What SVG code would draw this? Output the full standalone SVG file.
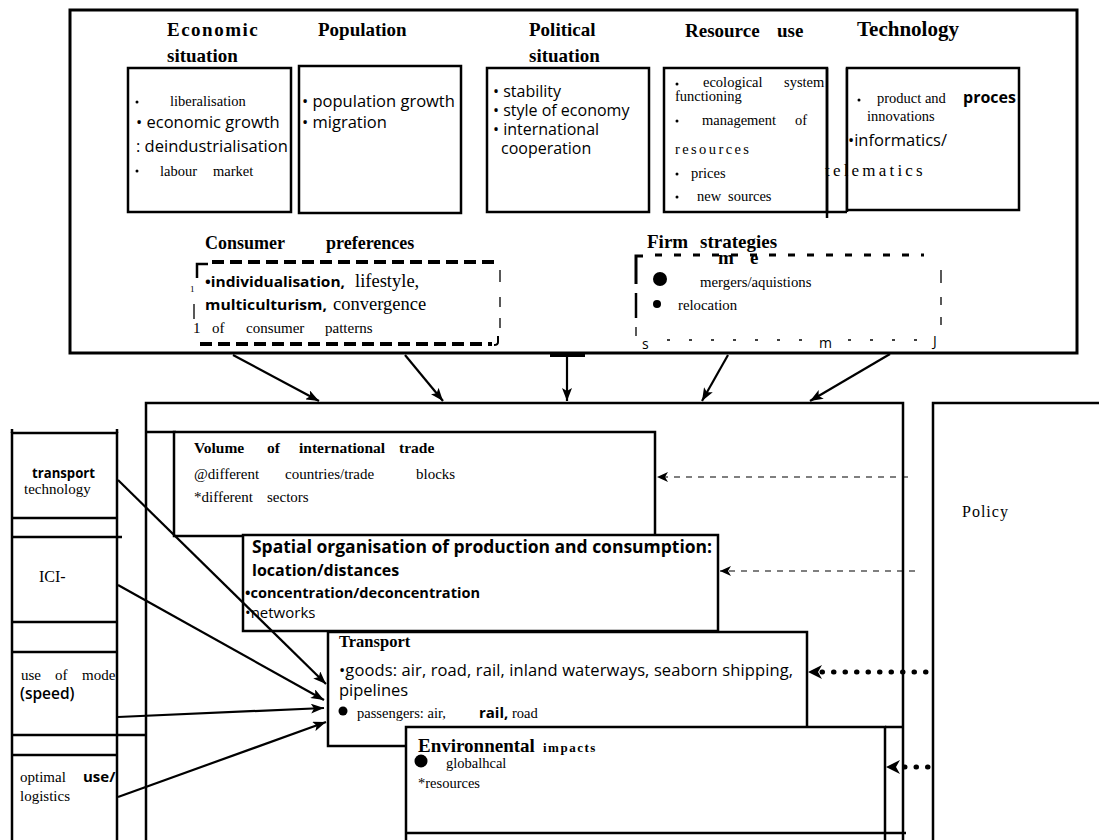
<svg xmlns="http://www.w3.org/2000/svg" width="1099" height="840" viewBox="0 0 1099 840">
<style>
.ln{fill:none;stroke:#000;stroke-width:2.5}
.bx{fill:#fff;stroke:#000;stroke-width:2.5}
.thin{fill:none;stroke:#000;stroke-width:1.3}
.s{font-family:"Liberation Serif",serif;fill:#000}
.sb{font-family:"Liberation Serif",serif;font-weight:bold;fill:#000}
.a{font-family:"Open Sans","DejaVu Sans",sans-serif;fill:#000}
.ab{font-family:"Open Sans","DejaVu Sans",sans-serif;font-weight:bold;fill:#000}
.h{font-size:19px}
.t14{font-size:14.5px}
.t15{font-size:15px}
.t16{font-size:16.5px}
.con{fill:none;stroke:#000;stroke-width:2.2}
.pd{fill:none;stroke:#000;stroke-width:1.2;stroke-dasharray:6 6}
.pdot{fill:none;stroke:#000;stroke-width:5;stroke-dasharray:0.5 11;stroke-linecap:round}
</style>
<defs>
<marker id="ah" markerUnits="userSpaceOnUse" markerWidth="13" markerHeight="10" refX="13" refY="5" orient="auto"><path d="M0,0 L13,5 L0,10 L3,5 z" fill="#000"/></marker>
<marker id="ahs" markerUnits="userSpaceOnUse" markerWidth="11" markerHeight="10" refX="11" refY="5" orient="auto"><path d="M0,0 L11,5 L0,10 L3,5 z" fill="#000"/></marker>
</defs>
<rect width="1099" height="840" fill="#fff"/>

<g id="drivers">
<rect x="70" y="10" width="1007" height="343" fill="#fff" stroke="#000" stroke-width="3"/>
</g>

<g id="economic">
<rect x="128" y="68" width="163" height="144" class="bx"/>
<text class="sb h" x="167" y="36" letter-spacing="1.5">Economic</text>
<text class="sb h" x="167" y="62">situation</text>
<circle cx="137" cy="102" r="1.5"/>
<text class="s t14" x="170" y="106">liberalisation</text>
<text class="a t16" x="136" y="128">• economic growth</text>
<text class="a t16" x="136" y="152">: deindustrialisation</text>
<circle cx="137" cy="171" r="1.5"/>
<text class="s t14" x="160" y="176">labour<tspan x="213">market</tspan></text>
</g>

<g id="population">
<rect x="299" y="66" width="162" height="147" class="bx"/>
<text class="sb h" x="318" y="36">Population</text>
<text class="a t16" x="302" y="107">• population growth</text>
<text class="a t16" x="302" y="128">• migration</text>
</g>

<g id="political">
<rect x="487" y="68" width="162" height="144" class="bx"/>
<text class="sb h" x="529" y="36">Political</text>
<text class="sb h" x="529" y="62">situation</text>
<text class="a" font-size="16" x="493" y="97">• stability</text>
<text class="a" font-size="16" x="493" y="116">• style of economy</text>
<text class="a" font-size="16" x="493" y="135">• international</text>
<text class="a" font-size="16" x="501" y="154">cooperation</text>
</g>

<g id="resource">
<rect x="664" y="68" width="163" height="144" class="bx"/>
<text class="sb h" x="685" y="37">Resource<tspan x="777">use</tspan></text>
<circle cx="677" cy="84" r="1.5"/>
<text class="s t14" x="703" y="87">ecological<tspan x="784">system</tspan></text>
<text class="s t14" x="675" y="101">functioning</text>
<circle cx="677" cy="121" r="1.5"/>
<text class="s t14" x="702" y="125">management<tspan x="795">of</tspan></text>
<text class="s t14" x="675" y="154" letter-spacing="2.4">resources</text>
<circle cx="677" cy="174" r="1.5"/>
<text class="s t14" x="691" y="178">prices</text>
<circle cx="677" cy="197" r="1.5"/>
<text class="s t14" x="697" y="201">new<tspan x="728">sources</tspan></text>
</g>

<g id="technology">
<path class="ln" d="M827 68 V212 M847 68 V212 M827 212 H847 M827 212 V218"/>
<rect x="847" y="68" width="172" height="142" class="bx"/>
<text class="sb" font-size="21" x="857" y="36">Technology</text>
<circle cx="859" cy="100" r="1.5"/>
<text class="s t14" x="877" y="103">product and</text>
<text class="ab" font-size="16" x="963" y="103">proces</text>
<text class="s t14" x="867" y="121">innovations</text>
<text class="a t16" x="848" y="146">•informatics/</text>
<text class="s" font-size="17" x="825" y="176" letter-spacing="3.2">telematics</text>
</g>

<g id="consumer">
<text class="sb" font-size="18" x="205" y="249">Consumer<tspan x="326">preferences</tspan></text>
<line x1="212" y1="262" x2="498" y2="262" stroke="#000" stroke-width="4" stroke-dasharray="12 6"/>
<line x1="200" y1="344" x2="492" y2="344" stroke="#000" stroke-width="4" stroke-dasharray="12 6"/>
<path d="M197 278 V264 H208" fill="none" stroke="#000" stroke-width="2.5"/>
<text class="s" font-size="9" x="190" y="292">1</text>
<path class="thin" d="M194 304 V319 M500 270 V282 M500 297 V307 M500 318 V328"/>
<path d="M498 336 V342 Q498 345 494 345" fill="none" stroke="#000" stroke-width="2"/>
<text class="ab" font-size="15" x="205" y="287" textLength="140" lengthAdjust="spacingAndGlyphs">•individualisation,</text>
<text class="s" font-size="18.5" x="355" y="287">lifestyle,</text>
<text class="ab" font-size="15" x="205" y="310" textLength="122" lengthAdjust="spacingAndGlyphs">multiculturism,</text>
<text class="s" font-size="18.5" x="333" y="310">convergence</text>
<text class="s t15" x="193" y="333">1<tspan x="212">of</tspan><tspan x="246">consumer</tspan><tspan x="325">patterns</tspan></text>
</g>

<g id="firm">
<text class="sb" font-size="19" x="647" y="248">Firm<tspan x="700">strategies</tspan></text>
<line x1="655" y1="255" x2="924" y2="255" stroke="#000" stroke-width="3" stroke-dasharray="7 12"/>
<text class="sb" font-size="19" x="718" y="264">m<tspan x="750">e</tspan></text>
<path d="M643 256 H636 V284" fill="none" stroke="#000" stroke-width="3"/>
<path d="M636 293 V318" fill="none" stroke="#000" stroke-width="2.5"/>
<path class="thin" d="M636 327 V336 M941 270 V283 M941 297 V305 M941 317 V325"/>
<line x1="667" y1="340" x2="808" y2="340" stroke="#000" stroke-width="1.5" stroke-dasharray="3 19"/>
<line x1="848" y1="340" x2="925" y2="340" stroke="#000" stroke-width="1.5" stroke-dasharray="3 19"/>
<text class="a" font-size="14" x="642" y="349">s</text>
<text class="a" font-size="14" x="819" y="348">m</text>
<text class="a" font-size="14" x="933" y="346">J</text>
<circle cx="660" cy="279" r="7"/>
<text class="s" font-size="14.8" x="700" y="287">mergers/aquistions</text>
<circle cx="657" cy="304" r="4"/>
<text class="s" font-size="14.8" x="678" y="310">relocation</text>
</g>

<g id="system">
<rect x="146" y="403" width="757" height="460" fill="#fff" stroke="#000" stroke-width="2.5"/>
<line x1="146" y1="432" x2="176" y2="432" class="ln"/>
</g>

<g id="volume">
<rect x="174" y="432" width="481" height="104" class="bx"/>
<text class="sb" font-size="15.5" x="194" y="453">Volume<tspan x="267">of</tspan><tspan x="299">international</tspan><tspan x="399">trade</tspan></text>
<text class="s t15" x="194" y="479">@different<tspan x="285">countries/trade</tspan><tspan x="416">blocks</tspan></text>
<text class="s t15" x="194" y="502">*different<tspan x="267">sectors</tspan></text>
</g>

<g id="spatial">
<rect x="243" y="535" width="475" height="96" class="bx"/>
<text class="ab" font-size="17.5" x="252" y="553" textLength="460">Spatial organisation of production and consumption:</text>
<text class="ab" font-size="16" x="252" y="576">location/distances</text>
<text class="ab" font-size="15" x="245" y="598" textLength="235" lengthAdjust="spacingAndGlyphs">•concentration/deconcentration</text>
<text class="a" font-size="15" x="245" y="618">•networks</text>
</g>

<g id="transport">
<rect x="328" y="632" width="479" height="114" class="bx"/>
<text class="sb" font-size="16.5" x="339" y="647">Transport</text>
<text class="a t16" x="339" y="676" textLength="454">•goods: air, road, rail, inland waterways, seaborn shipping,</text>
<text class="a t16" x="339" y="696">pipelines</text>
<circle cx="343" cy="711" r="4.5"/>
<text class="s t14" x="357" y="718">passengers: air,</text>
<text class="ab" font-size="15" x="479" y="718">rail,</text>
<text class="s t14" x="512" y="718">road</text>
</g>

<g id="environment">
<rect x="406" y="727" width="479" height="130" class="bx"/>
<path class="ln" d="M885 727 H903 M406 833 H906"/>
<text class="sb" font-size="19" x="418" y="752">Environnental</text>
<text class="sb" font-size="13" x="543" y="752" letter-spacing="1.5">impacts</text>
<circle cx="421" cy="761" r="6.5"/>
<text class="s t14" x="446" y="768">globalhcal</text>
<text class="s t14" x="418" y="788">*resources</text>
</g>

<g id="policy">
<rect x="933" y="403" width="200" height="460" fill="#fff" stroke="#000" stroke-width="2.5"/>
<text class="s" font-size="16" x="962" y="517" letter-spacing="1">Policy</text>
</g>

<g id="means">
<rect x="12" y="433" width="105" height="420" fill="#fff" stroke="#000" stroke-width="2.5"/>
<path class="ln" d="M12 518 H117 M11 537 H122 M12 622 H117 M12 652 H117 M12 735 H146 M12 755 H117 M12 429 V433 M117 429 V433"/>
<text class="ab" font-size="14.5" x="32" y="478" textLength="63" lengthAdjust="spacingAndGlyphs">transport</text>
<text class="s t15" x="24" y="494">technology</text>
<text class="s" font-size="16" x="39" y="582">ICI-</text>
<text class="s t15" x="21" y="680">use<tspan x="55">of</tspan><tspan x="82">mode</tspan></text>
<text class="a" font-size="15.5" font-weight="600" x="20" y="699">(speed)</text>
<text class="s t15" x="20" y="782">optimal</text>
<text class="ab" font-size="15" x="83" y="782">use/</text>
<text class="s t15" x="20" y="801">logistics</text>
</g>

<g id="connectors">
<rect x="550" y="352" width="35" height="5" fill="#000"/>
<line class="con" x1="233" y1="355" x2="319" y2="401" marker-end="url(#ah)"/>
<line class="con" x1="405" y1="355" x2="443" y2="401" marker-end="url(#ah)"/>
<line class="con" x1="567" y1="357" x2="567" y2="401" marker-end="url(#ah)"/>
<line class="con" x1="728" y1="355" x2="702" y2="401" marker-end="url(#ah)"/>
<line class="con" x1="890" y1="354" x2="810" y2="401" marker-end="url(#ah)"/>
<line class="con" x1="118" y1="480" x2="326" y2="684" marker-end="url(#ah)"/>
<line class="con" x1="118" y1="585" x2="324" y2="700" marker-end="url(#ah)"/>
<line class="con" x1="118" y1="717" x2="324" y2="708" marker-end="url(#ah)"/>
<line class="con" x1="118" y1="797" x2="326" y2="722" marker-end="url(#ah)"/>
<line class="pd" x1="908" y1="477" x2="657" y2="477" marker-end="url(#ahs)"/>
<line class="pd" x1="915" y1="571" x2="720" y2="571" marker-end="url(#ahs)"/>
<line class="pdot" x1="926" y1="672" x2="812" y2="672"/>
<path d="M822 665 L808 672 L822 679 L818 672 z" fill="#000"/>
<line class="pdot" x1="928" y1="767" x2="900" y2="767"/>
<path d="M900 760 L886 767 L900 774 L896 767 z" fill="#000"/>
</g>
</svg>
